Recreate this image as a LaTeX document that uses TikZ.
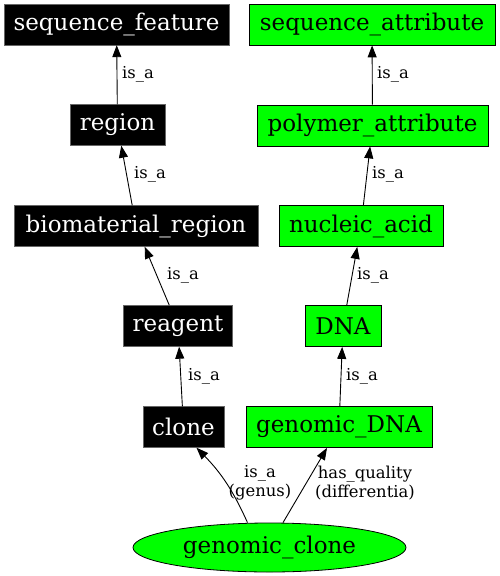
\documentclass[tikz,border=0pt]{standalone}
\usepackage{fontspec}
\setmainfont{DejaVu Serif}
\usetikzlibrary{shapes.geometric,arrows.meta,calc}
\tikzset{
  base/.style={rectangle, minimum height=41pt, inner sep=0pt, font=\fontsize{23}{27}\selectfont},
  blackbox/.style={base, fill=black, draw=black!60, text=white},
  greenbox/.style={base, fill=green, draw=black, line width=0.8pt},
  greenell/.style={ellipse, fill=green, draw=black, line width=0.8pt, inner sep=0pt, font=\fontsize{23}{27}\selectfont},
  arr/.style={-{Triangle[length=12pt,width=9pt]}, line width=0.9pt, black},
  lbl/.style={font=\fontsize{16.4}{19.5}\selectfont, inner sep=0pt, align=center}
}
\begin{document}
\begin{tikzpicture}[x=1pt,y=-1pt]
\useasboundingbox (0,0) rectangle (499,576);
% left column
\node[blackbox, minimum width=225pt] (sf) at (116.5,24.5) {sequence\_feature};
\node[blackbox, minimum width=95pt] (reg) at (117.5,125) {region};
\node[blackbox, minimum width=244pt] (bio) at (136,226) {biomaterial\_region};
\node[blackbox, minimum width=109pt] (rg) at (178,326) {reagent};
\node[blackbox, minimum width=81pt] (cl) at (183.5,427) {clone};
% right column
\node[greenbox, minimum width=246pt] (sa) at (372,24.5) {sequence\_attribute};
\node[greenbox, minimum width=231pt] (pa) at (372.5,125.5) {polymer\_attribute};
\node[greenbox, minimum width=164pt] (na) at (361,226) {nucleic\_acid};
\node[greenbox, minimum width=76pt] (dna) at (343,326) {DNA};
\node[greenbox, minimum width=186pt] (gd) at (339,427) {genomic\_DNA};
% bottom
\node[greenell, minimum width=273pt, minimum height=49pt] (gc) at (269.5,547.5) {genomic\_clone};
% edges
\draw[arr] (reg) -- (sf);
\draw[arr] (bio) -- (reg);
\draw[arr] (rg) -- (bio);
\draw[arr] (cl) -- (rg);
\draw[arr] (pa) -- (sa);
\draw[arr] (na) -- (pa);
\draw[arr] (dna) -- (na);
\draw[arr] (gd) -- (dna);
\coordinate (s1) at ($(gc.north)+(-22,0)$);
\coordinate (e1) at ($(cl.south)+(13,0)$);
\coordinate (s2) at ($(gc.north)+(13.5,0)$);
\coordinate (e2) at ($(gd.south)+(-12,0)$);
\draw[arr] (s1) to[bend right=10] (e1);
\draw[arr] (s2) -- (e2);
% labels
\node[lbl] (l1) at (138,74) {is\_a};
\node[lbl] (l2) at (150,174) {is\_a};
\node[lbl] (l3) at (183,275) {is\_a};
\node[lbl] (l4) at (204,376) {is\_a};
\node[lbl] (l5) at (393,74) {is\_a};
\node[lbl] (l6) at (388,174) {is\_a};
\node[lbl] (l7) at (373,275) {is\_a};
\node[lbl] (l8) at (362,376) {is\_a};
\node[lbl] (l9) at (260,483) {is\_a\\(genus)};
\node[lbl] (l10) at (365,483) {has\_quality\\(differentia)};
\end{tikzpicture}
\end{document}
